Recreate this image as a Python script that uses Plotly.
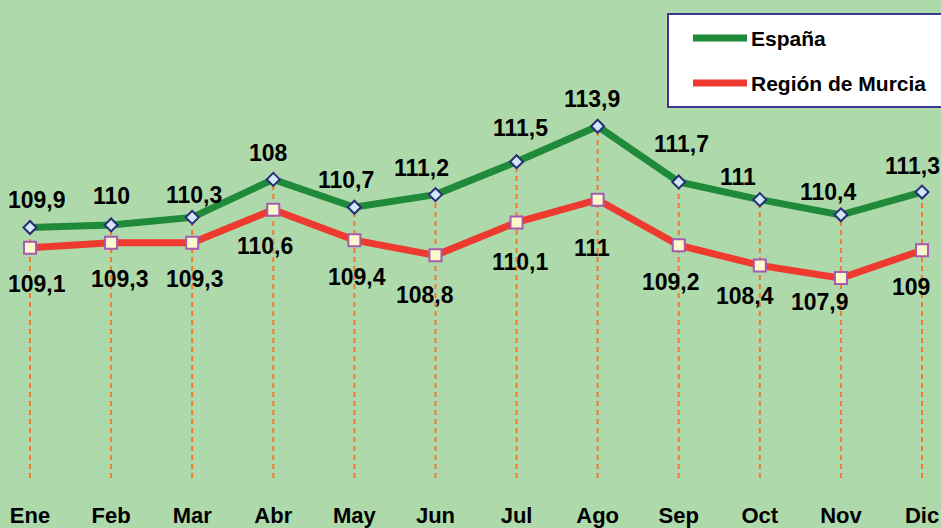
import plotly.graph_objects as go

# ---------------- data ----------------
months = ["Ene", "Feb", "Mar", "Abr", "May", "Jun", "Jul", "Ago", "Sep", "Oct", "Nov", "Dic"]
espana = [109.9, 110.0, 110.3, 111.8, 110.7, 111.2, 112.5, 113.9, 111.7, 111.0, 110.4, 111.3]
murcia = [109.1, 109.3, 109.3, 110.6, 109.4, 108.8, 110.1, 111.0, 109.2, 108.4, 107.9, 109.0]
espana_labels = ["109,9", "110", "110,3", "108", "110,7", "111,2", "111,5", "113,9", "111,7", "111", "110,4", "111,3"]
murcia_labels = ["109,1", "109,3", "109,3", "110,6", "109,4", "108,8", "110,1", "111", "109,2", "108,4", "107,9", "109"]
series_names = ["España", "Región de Murcia"]
y_min = 100

# ---------------- style ----------------
W, H = 941, 528
PLOT_H = 478
BG = "#ADD9AB"
GREEN = "#1F8A3A"
RED = "#EE3A2F"
ORANGE = "#F47A2C"
FONT = "Liberation Sans, Arial, sans-serif"

# label offsets (pixels: dx right, dy down) - style only
esp_dx = [7, 0, 2, -5, -8, -14, 4, -6, 3, -22, -13, -10]
esp_dy = [-27, -29, -22, -26, -27, -27, -34, -27, -38, -23, -23, -26]
mur_dx = [7, 9, 3, -8, 3, -10, 3, -6, -8, -15, -21, -11]
mur_dy = [36, 36, 36, 36, 37, 40, 40, 48, 37, 31, 24, 37]

fig = go.Figure()

# drop lines from the highest point of each month down to the axis
dx, dy = [], []
for m, a, b in zip(months, espana, murcia):
    dx += [m, m, None]
    dy += [y_min, max(a, b), None]
fig.add_trace(go.Scatter(x=dx, y=dy, mode="lines", showlegend=False, hoverinfo="skip",
                         line=dict(color=ORANGE, width=2, dash="5px,4px")))

fig.add_trace(go.Scatter(x=months, y=espana, name=series_names[0], mode="lines+markers",
                         line=dict(color=GREEN, width=7),
                         marker=dict(symbol="diamond", size=10, color="#CDEAF4",
                                     line=dict(color="#2B2A75", width=2))))
fig.add_trace(go.Scatter(x=months, y=murcia, name=series_names[1], mode="lines+markers",
                         line=dict(color=RED, width=7),
                         marker=dict(symbol="square", size=12, color="#FDF8CC",
                                     line=dict(color="#A45BB0", width=2))))

annotations = []
for i, m in enumerate(months):
    annotations.append(dict(x=m, y=espana[i], text=espana_labels[i], showarrow=False,
                            xshift=esp_dx[i], yshift=-esp_dy[i],
                            font=dict(family=FONT, size=23, color="black", weight="bold")))
    annotations.append(dict(x=m, y=murcia[i], text=murcia_labels[i], showarrow=False,
                            xshift=mur_dx[i], yshift=-mur_dy[i],
                            font=dict(family=FONT, size=23, color="black", weight="bold")))

# ---------------- custom legend ----------------
def px(xp):
    return xp / W

def py(yp):
    return 1 - yp / PLOT_H

shapes = [dict(type="rect", xref="paper", yref="paper", x0=px(668), x1=px(950),
               y0=py(107), y1=py(14), fillcolor="white", line=dict(color="#3A3A96", width=2),
               layer="above")]
leg_rows = [38, 83]
leg_colors = [GREEN, RED]
for yy, c in zip(leg_rows, leg_colors):
    shapes.append(dict(type="line", xref="paper", yref="paper", x0=px(693), x1=px(747),
                       y0=py(yy), y1=py(yy), line=dict(color=c, width=7), layer="above"))
for yy, name in zip(leg_rows, series_names):
    annotations.append(dict(xref="paper", yref="paper", x=px(749), y=py(yy), text=name,
                            showarrow=False, xanchor="left", yanchor="middle",
                            font=dict(family=FONT, size=21, color="black", weight="bold")))

# legend marker samples on an overlay pixel axis
fig.add_trace(go.Scatter(x=[720], y=[leg_rows[0]], xaxis="x2", yaxis="y2", mode="markers",
                         showlegend=False, hoverinfo="skip",
                         marker=dict(symbol="diamond", size=10, color="#CDEAF4",
                                     line=dict(color="#2B2A75", width=2))))
fig.add_trace(go.Scatter(x=[720], y=[leg_rows[1]], xaxis="x2", yaxis="y2", mode="markers",
                         showlegend=False, hoverinfo="skip",
                         marker=dict(symbol="square", size=12, color="#FDF8CC",
                                     line=dict(color="#A45BB0", width=2))))

fig.update_layout(
    width=W, height=H,
    margin=dict(l=0, r=0, t=0, b=H - PLOT_H, pad=0),
    paper_bgcolor=BG, plot_bgcolor=BG,
    showlegend=False,
    shapes=shapes,
    annotations=annotations,
    xaxis=dict(type="category", categoryorder="array", categoryarray=months,
               range=[-0.37, 11.234], showgrid=False, zeroline=False, showline=False,
               ticks="", ticklabelstandoff=22,
               tickfont=dict(family=FONT, size=22, color="black", weight="bold")),
    yaxis=dict(range=[y_min, 118.89], showgrid=False, zeroline=False, showline=False,
               showticklabels=False, ticks=""),
    xaxis2=dict(overlaying="x", range=[0, W], visible=False),
    yaxis2=dict(overlaying="y", range=[PLOT_H, 0], visible=False),
)

fig.write_html("out.html", config={"displayModeBar": False},
               post_script="document.body.style.margin='0';document.body.style.overflow='hidden';")
